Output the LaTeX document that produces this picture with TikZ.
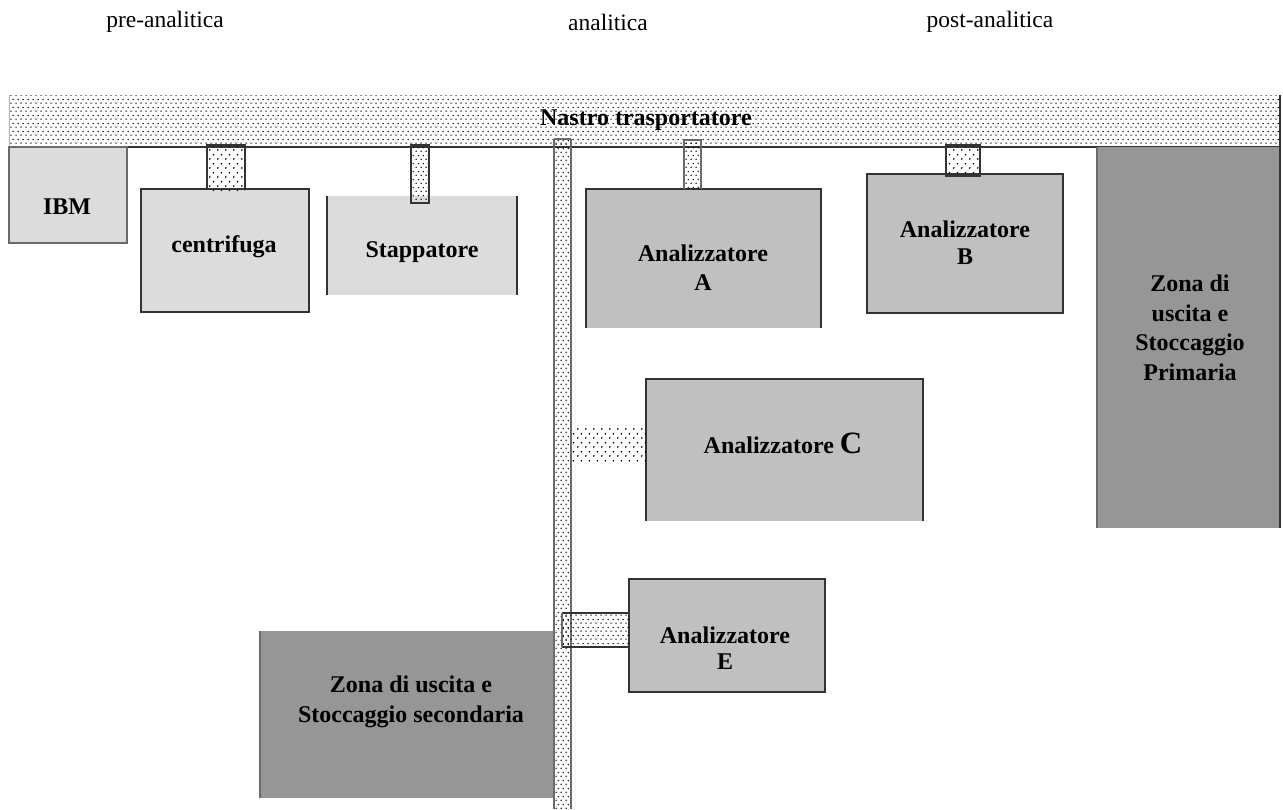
\documentclass[tikz,border=0pt]{standalone}
\usepackage{fontspec}
\setmainfont{Liberation Serif}
\usetikzlibrary{patterns}
\pgfdeclarepatternformonly{beltdots}{\pgfqpoint{0pt}{0pt}}{\pgfqpoint{5pt}{8pt}}{\pgfqpoint{5pt}{8pt}}{%
  \pgfpathcircle{\pgfqpoint{1.25pt}{2pt}}{0.85pt}%
  \pgfpathcircle{\pgfqpoint{3.75pt}{6pt}}{0.85pt}%
  \pgfusepath{fill}}
\pgfdeclarepatternformonly{coarsedots}{\pgfqpoint{0pt}{0pt}}{\pgfqpoint{8pt}{9pt}}{\pgfqpoint{8pt}{9pt}}{%
  \pgfpathcircle{\pgfqpoint{2pt}{2.25pt}}{1pt}%
  \pgfpathcircle{\pgfqpoint{6pt}{6.75pt}}{1pt}%
  \pgfusepath{fill}}
\definecolor{lightbox}{HTML}{DCDCDC}
\definecolor{midbox}{HTML}{C0C0C0}
\definecolor{darkbox}{HTML}{969696}
\definecolor{edgecol}{HTML}{333333}
\definecolor{softedge}{HTML}{6A6A6A}
\tikzset{
  area/.style={rectangle, inner sep=0pt, outer sep=0pt, anchor=north west, draw=none},
  dotted area/.style={area, fill=white, pattern=beltdots, pattern color=black},
  coarse area/.style={area, fill=white, pattern=coarsedots, pattern color=black},
  edge/.style={draw=edgecol, line width=1.6pt},
  soft/.style={draw=softedge, line width=1.3pt},
  lbl/.style={font=\fontsize{24}{28}\selectfont\bfseries, align=center, inner sep=0pt},
  phase/.style={font=\fontsize{23.5}{25}\selectfont, inner sep=0pt}
}
\begin{document}
\begin{tikzpicture}[x=1pt,y=-1pt]
\useasboundingbox (0,0) rectangle (1283,809);

% phase labels
\node[phase] (pre) at (165,22) {pre-analitica};
\node[phase] (ana) at (608,22) {analitica};
\node[phase] (post) at (990,22) {post-analitica};

% horizontal belt
\node[dotted area, minimum width=1271pt, minimum height=52pt] (belt) at (9,95) {};
\draw[edge] (belt.south west) -- (belt.south east) -- (belt.north east);
\draw[draw=gray!60, line width=0.8pt] (belt.south west) -- (belt.north west);
\node[lbl] (beltlbl) at (646,120) {Nastro trasportatore};

% stations (boxes)
\node[area, fill=lightbox, minimum width=118pt, minimum height=96pt] (ibm) at (9,147) {};
\draw[soft] (ibm.north west) rectangle (ibm.south east);

\node[area, fill=lightbox, minimum width=168pt, minimum height=123pt] (cent) at (141,189) {};
\draw[edge] (cent.north west) rectangle (cent.south east);

\node[area, fill=lightbox, minimum width=190pt, minimum height=99pt] (stap) at (327,196) {};
\draw[edge] (stap.north west) -- (stap.south west);
\draw[edge] (stap.north east) -- (stap.south east);

\node[area, fill=midbox, minimum width=235pt, minimum height=139pt] (anA) at (586,189) {};
\draw[edge] (anA.south west) -- (anA.north west) -- (anA.north east) -- (anA.south east);

\node[area, fill=midbox, minimum width=196pt, minimum height=139pt] (anB) at (867,174) {};
\draw[edge] (anB.north west) rectangle (anB.south east);

\node[area, fill=darkbox, minimum width=183pt, minimum height=381pt] (prim) at (1097,147) {};
\draw[soft] (prim.north west) -- (prim.south west);
\draw[edge] (prim.north east) -- (prim.south east);

\node[area, fill=midbox, minimum width=277pt, minimum height=142pt] (anC) at (646,379) {};
\draw[edge] (anC.south west) -- (anC.north west) -- (anC.north east) -- (anC.south east);

\node[area, fill=midbox, minimum width=196pt, minimum height=113pt] (anE) at (629,579) {};
\draw[edge] (anE.north west) rectangle (anE.south east);

\node[area, fill=darkbox, minimum width=294pt, minimum height=167pt] (sec) at (260,631) {};
\draw[soft] (sec.north west) -- (sec.south west);

% vertical belt
\node[dotted area, minimum width=17pt, minimum height=670pt] (vbelt) at (554,139) {};
\draw[soft] (vbelt.north west) -- (vbelt.south west);
\draw[soft] (vbelt.north east) -- (vbelt.south east);
\draw[soft] (vbelt.north west) -- (vbelt.north east);

% connectors between belt and stations
\node[coarse area, minimum width=38pt, minimum height=45pt] (ccent) at (207,145) {};
\draw[edge] (ccent.south west) -- (ccent.north west) -- (ccent.north east) -- (ccent.south east);

\node[dotted area, minimum width=18pt, minimum height=58pt] (cstap) at (411,145) {};
\draw[edge] (cstap.north west) rectangle (cstap.south east);

\node[dotted area, minimum width=17pt, minimum height=49pt] (cA) at (684,140) {};
\draw[soft] (cA.south west) -- (cA.north west) -- (cA.north east) -- (cA.south east);

\node[coarse area, minimum width=34pt, minimum height=31pt] (cB) at (946,145) {};
\draw[edge] (cB.north west) rectangle (cB.south east);

\node[coarse area, minimum width=74pt, minimum height=35pt] (cC) at (572,428) {};

\node[dotted area, minimum width=67pt, minimum height=34pt] (cE) at (562,613) {};
\draw[edge] (cE.north west) -- (cE.north east);
\draw[edge] (cE.south west) -- (cE.south east);
\draw[soft] (cE.north west) -- (cE.south west);

% labels
\node[lbl] (ibmlbl) at (67,207) {IBM};
\node[lbl] (centlbl) at (224,247) {centrifuga};
\node[lbl] (staplbl) at (422,252) {Stappatore};
\node[lbl, font=\fontsize{24}{29}\selectfont\bfseries] (albl) at (703,268) {Analizzatore\\A};
\node[lbl, font=\fontsize{24}{27}\selectfont\bfseries] (blbl) at (965,243) {Analizzatore\\B};
\node[lbl] (clbl) at (783,443) {Analizzatore {\fontsize{31}{31}\selectfont C}};
\node[lbl, font=\fontsize{24}{26}\selectfont\bfseries] (elbl) at (725,648) {Analizzatore\\E};
\node[lbl, font=\fontsize{24}{29.5}\selectfont\bfseries] (primlbl) at (1190,328) {Zona di\\uscita e\\Stoccaggio\\Primaria};
\node[lbl, font=\fontsize{24}{30}\selectfont\bfseries] (seclbl) at (411,702) {Zona di uscita e\\Stoccaggio secondaria};
\end{tikzpicture}
\end{document}
